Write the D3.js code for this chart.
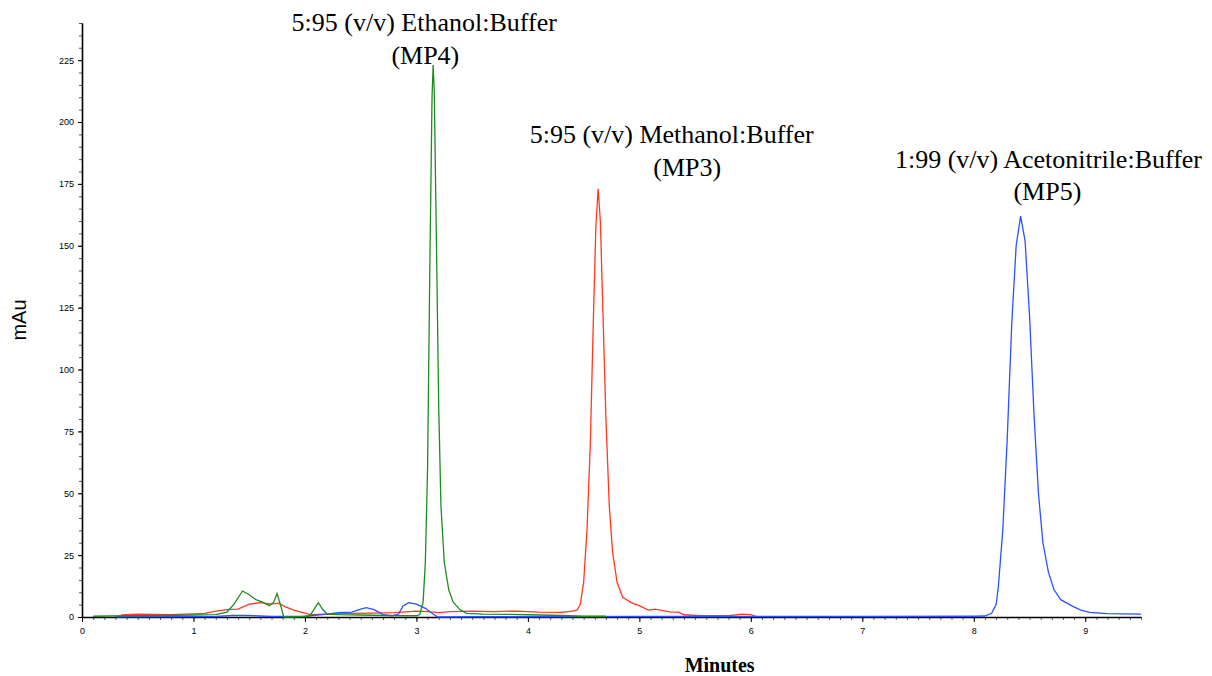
<!DOCTYPE html>
<html>
<head>
<meta charset="utf-8">
<script src="https://cdn.jsdelivr.net/npm/d3@7"></script>
<style>
  body { margin: 0; background: #fff; }
  svg { display: block; }
</style>
</head>
<body>
<div class="chart"></div>
<script>
// Chromatogram traces: time in minutes, absorbance in mAu
const mp4Times = [0.1, 0.4, 0.7, 1.0, 1.2, 1.3, 1.36, 1.44, 1.5, 1.56, 1.62, 1.68, 1.72, 1.75, 1.78, 1.81, 1.9, 2.04, 2.08, 2.12, 2.16, 2.2, 2.3, 2.5, 2.7, 2.9, 3.0, 3.03, 3.06, 3.08, 3.1, 3.12, 3.14, 3.15, 3.16, 3.18, 3.2, 3.22, 3.25, 3.29, 3.33, 3.39, 3.45, 3.6, 4.0, 4.3, 4.5, 4.7];
const mp4Values = [0.3, 0.5, 0.6, 0.8, 1.0, 2.0, 5.0, 10.5, 9.0, 7.0, 6.0, 4.6, 6.0, 9.5, 5.0, 0, 0, 0.3, 3.0, 5.8, 3.0, 1.2, 1.0, 0.8, 0.6, 0.5, 0.5, 1.0, 6, 22, 60, 140, 210, 223, 212, 150, 85, 45, 22, 11, 6, 3, 1.5, 1.2, 0.9, 0.6, 0.3, 0.3];

const mp3Times = [0.35, 0.5, 0.8, 1.0, 1.1, 1.2, 1.3, 1.4, 1.5, 1.6, 1.7, 1.76, 1.82, 1.9, 2.0, 2.05, 2.2, 2.4, 2.6, 2.8, 3.0, 3.1, 3.2, 3.3, 3.5, 3.7, 3.9, 4.1, 4.3, 4.4, 4.44, 4.47, 4.5, 4.53, 4.56, 4.59, 4.61, 4.63, 4.65, 4.67, 4.7, 4.73, 4.76, 4.8, 4.85, 4.93, 5.0, 5.08, 5.14, 5.27, 5.35, 5.4, 5.55, 5.8, 5.92, 6.0, 6.05];
const mp3Values = [0.8, 1.2, 1.0, 1.3, 1.5, 2.4, 3.0, 3.2, 5.2, 5.8, 5.2, 5.6, 4.2, 2.8, 1.6, 1.0, 1.2, 1.5, 1.6, 1.8, 2.4, 2.2, 1.8, 2.2, 2.4, 2.2, 2.4, 2.0, 1.9, 2.4, 2.8, 5, 14, 35, 70, 125, 158, 173, 160, 128, 80, 45, 26, 14, 8, 5.7, 4.6, 2.8, 3.2, 2.1, 2.0, 0.9, 0.5, 0.5, 1.2, 1.0, 0.2];

const mp5Times = [0.3, 1.2, 1.35, 1.5, 1.7, 2.0, 2.2, 2.3, 2.42, 2.5, 2.55, 2.62, 2.7, 2.78, 2.84, 2.88, 2.93, 3.0, 3.08, 3.14, 3.19, 3.5, 4.0, 5.0, 6.0, 7.0, 8.0, 8.1, 8.16, 8.2, 8.22, 8.26, 8.3, 8.34, 8.38, 8.42, 8.46, 8.5, 8.54, 8.58, 8.62, 8.67, 8.72, 8.78, 8.88, 8.96, 9.04, 9.2, 9.5];
const mp5Values = [0.1, 0.2, 0.6, 0.6, 0.2, 0.3, 1.2, 1.8, 2.0, 3.2, 3.8, 3.0, 1.0, 0.5, 1.2, 4.5, 5.8, 5.2, 3.5, 1.5, 0, 0.1, 0.1, 0.2, 0.2, 0.2, 0.3, 0.4, 1.5, 5, 12, 35, 72, 118, 150, 162, 152, 122, 82, 50, 30, 18, 11, 7, 4.5, 2.8, 1.9, 1.4, 1.2];

// Peak annotations
const labelLines = [
  ["5:95 (v/v) Ethanol:Buffer", "(MP4)"],
  ["5:95 (v/v) Methanol:Buffer", "(MP3)"],
  ["1:99 (v/v) Acetonitrile:Buffer", "(MP5)"]
];
const labelTimes = [3.07, 5.29, 8.67];
const labelTimes2 = [3.08, 5.43, 8.66];
const labelValues = [236.8, 191.5, 181.4];
const labelValues2 = [223.4, 178.2, 168.5];

const yMajorTicks = [0, 25, 50, 75, 100, 125, 150, 175, 200, 225];
const xMajorTicks = [0, 1, 2, 3, 4, 5, 6, 7, 8, 9];

const width = 1212;
const height = 676;

const svg = d3.select(".chart")
  .append("svg")
  .attr("width", width)
  .attr("height", height);

const x = d3.scaleLinear().domain([0, 9.5]).range([82, 1141]);
const y = d3.scaleLinear().domain([0, 240]).range([617, 23]);

// minor ticks first so the major ones draw on top
svg.append("g")
  .attr("transform", "translate(82,0)")
  .call(d3.axisLeft(y).tickValues(d3.range(0, 241, 5)).tickSize(3).tickSizeOuter(0).tickFormat(""))
  .call(g => g.selectAll("line").attr("stroke", "#555"));

svg.append("g")
  .attr("transform", "translate(82,0)")
  .call(d3.axisLeft(y).tickValues(yMajorTicks).tickSize(4).tickSizeOuter(0).tickPadding(4))
  .call(g => g.select(".domain").attr("stroke", "#000").attr("stroke-width", 1.6))
  .call(g => g.selectAll("text").attr("font-family", "Liberation Sans, Arial, sans-serif").attr("font-size", 9).attr("fill", "#000"));

svg.append("g")
  .attr("transform", "translate(0,617)")
  .call(d3.axisBottom(x).tickValues(d3.range(0, 96).map(d => d / 10)).tickSize(3).tickSizeOuter(0).tickFormat(""))
  .call(g => g.selectAll("line").attr("stroke", "#666"));

svg.append("g")
  .attr("transform", "translate(0,617)")
  .call(d3.axisBottom(x).tickValues(xMajorTicks).tickSize(5).tickSizeOuter(0).tickPadding(6))
  .call(g => g.select(".domain").attr("stroke", "#000").attr("stroke-width", 1.6))
  .call(g => g.selectAll("text").attr("font-family", "Liberation Sans, Arial, sans-serif").attr("font-size", 9).attr("fill", "#000"));

// Axis titles
svg.append("text")
  .attr("transform", `translate(26,${y(120)}) rotate(-90)`)
  .attr("text-anchor", "middle")
  .attr("font-family", "Liberation Sans, Arial, sans-serif")
  .attr("font-size", 20)
  .text("mAu");

svg.append("text")
  .attr("x", x(5.72))
  .attr("y", 672)
  .attr("text-anchor", "middle")
  .attr("font-family", "Liberation Serif, Times New Roman, serif")
  .attr("font-weight", "bold")
  .attr("font-size", 20)
  .text("Minutes");

// Traces
const line = d3.line()
  .x(d => x(d[0]))
  .y(d => y(d[1]));

const traces = [
  { times: mp3Times, values: mp3Values, color: "#ff3a1e" },
  { times: mp5Times, values: mp5Values, color: "#2a52ff" },
  { times: mp4Times, values: mp4Values, color: "#1e8c1e" }
];

traces.forEach(t => {
  svg.append("path")
    .datum(t.times.map((d, i) => [d, t.values[i]]))
    .attr("fill", "none")
    .attr("stroke", t.color)
    .attr("stroke-width", 1.3)
    .attr("d", line);
});

// Peak labels
labelLines.forEach((lines, i) => {
  svg.append("text")
    .attr("x", x(labelTimes[i]))
    .attr("y", y(labelValues[i]))
    .attr("text-anchor", "middle")
    .attr("font-family", "Liberation Serif, Times New Roman, serif")
    .attr("font-size", 26)
    .text(lines[0]);
  svg.append("text")
    .attr("x", x(labelTimes2[i]))
    .attr("y", y(labelValues2[i]))
    .attr("text-anchor", "middle")
    .attr("font-family", "Liberation Serif, Times New Roman, serif")
    .attr("font-size", 26)
    .text(lines[1]);
});
</script>
</body>
</html>
